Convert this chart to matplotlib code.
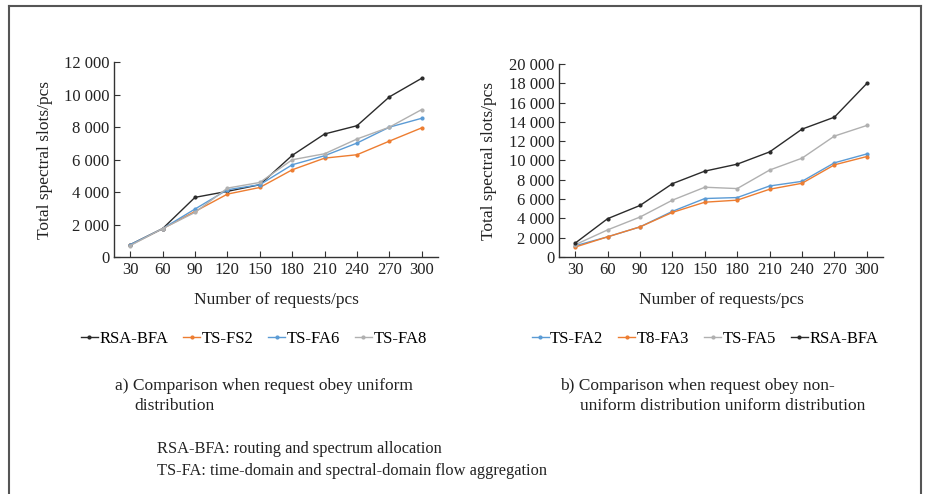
import numpy as np
import matplotlib.pyplot as plt
from matplotlib.ticker import FuncFormatter
from matplotlib.lines import Line2D

plt.rcParams['font.family'] = ['Liberation Serif', 'DejaVu Serif']

# Nombre de requêtes
requests = [30, 60, 90, 120, 150, 180, 210, 240, 270, 300]

# a) distribution uniforme
a_rsa_bfa = [760, 1750, 3680, 4050, 4460, 6270, 7590, 8100, 9880, 11030]
a_ts_fs2 = [740, 1750, 2810, 3880, 4290, 5380, 6100, 6310, 7150, 7970]
a_ts_fa6 = [760, 1750, 2960, 4150, 4460, 5690, 6250, 7030, 8010, 8560]
a_ts_fa8 = [700, 1750, 2750, 4250, 4600, 6000, 6370, 7280, 8010, 9100]

# b) distribution non uniforme
b_ts_fa2 = [1160, 2090, 3120, 4730, 6060, 6160, 7360, 7840, 9760, 10680]
b_t8_fa3 = [1030, 2090, 3120, 4620, 5680, 5890, 7020, 7640, 9550, 10410]
b_ts_fa5 = [1270, 2810, 4140, 5890, 7230, 7090, 9010, 10240, 12530, 13630]
b_rsa_bfa = [1440, 3970, 5340, 7600, 8900, 9620, 10890, 13250, 14490, 17980]

c_black = '#2b2b2b'
c_orange = '#ED7D31'
c_blue = '#5B9BD5'
c_gray = '#B0B0B0'

fig = plt.figure(figsize=(9.33, 4.94), dpi=100)
ax1 = fig.add_axes([114/933, 1-257/494, (438-114)/933, (257-62.5)/494])
ax2 = fig.add_axes([559/933, 1-257/494, (883-559)/933, (257-64)/494])

fmt = FuncFormatter(lambda v, p: f'{int(v):,}'.replace(',', ' '))

def style(ax, ymax):
    ax.set_xlim(15, 315)
    ax.set_ylim(0, ymax)
    ax.set_xticks(requests)
    ax.set_yticks(np.arange(0, ymax + 1, 2000))
    ax.yaxis.set_major_formatter(fmt)
    ax.spines['top'].set_visible(False)
    ax.spines['right'].set_visible(False)
    for s in ['left', 'bottom']:
        ax.spines[s].set_color('#333333')
        ax.spines[s].set_linewidth(1.0)
    ax.tick_params(direction='in', length=4, color='#333333', labelsize=12,
                   labelcolor='#222222')
    ax.set_xlabel('Number of requests/pcs', fontsize=12.5, labelpad=10, color='#222222')
    ax.set_ylabel('Total spectral slots/pcs', fontsize=12.5, labelpad=8, color='#222222')

kw = dict(marker='o', markersize=2, linewidth=1.0)

ax1.plot(requests, a_rsa_bfa, color=c_black, label='RSA-BFA', **kw)
ax1.plot(requests, a_ts_fs2, color=c_orange, label='TS-FS2', **kw)
ax1.plot(requests, a_ts_fa6, color=c_blue, label='TS-FA6', **kw)
ax1.plot(requests, a_ts_fa8, color=c_gray, label='TS-FA8', **kw)
style(ax1, 12000)

ax2.plot(requests, b_ts_fa2, color=c_blue, label='TS-FA2', **kw)
ax2.plot(requests, b_t8_fa3, color=c_orange, label='T8-FA3', **kw)
ax2.plot(requests, b_ts_fa5, color=c_gray, label='TS-FA5', **kw)
ax2.plot(requests, b_rsa_bfa, color=c_black, label='RSA-BFA', **kw)
style(ax2, 20000)

leg_kw = dict(ncol=4, frameon=False, fontsize=12, handlelength=1.0,
              handletextpad=0.1, columnspacing=0.9, loc='center')
ax1.legend(bbox_to_anchor=(254/933, 1-339/494), bbox_transform=fig.transFigure, **leg_kw)
ax2.legend(bbox_to_anchor=(705/933, 1-339/494), bbox_transform=fig.transFigure, **leg_kw)

# Légendes des sous-figures
fig.text(115/933, 1-386/494, 'a) Comparison when request obey uniform',
         fontsize=12.5, va='center', color='#222222')
fig.text(134/933, 1-406/494, 'distribution', fontsize=12.5, va='center', color='#222222')
fig.text(560/933, 1-386/494, 'b) Comparison when request obey non-',
         fontsize=12.5, va='center', color='#222222')
fig.text(580/933, 1-406/494, 'uniform distribution uniform distribution',
         fontsize=12.5, va='center', color='#222222')

fig.text(157/933, 1-449/494, 'RSA-BFA: routing and spectrum allocation',
         fontsize=11.8, va='center', color='#222222')
fig.text(157/933, 1-471/494, 'TS-FA: time-domain and spectral-domain flow aggregation',
         fontsize=11.8, va='center', color='#222222')

# Cadre
for xs, ys in [([9, 9], [494, 6]), ([9, 921], [6, 6]), ([921, 921], [6, 494])]:
    fig.add_artist(Line2D([x/933 for x in xs], [1-y/494 for y in ys],
                          color='#555555', linewidth=1.5))

plt.savefig('out.png', dpi=100)
